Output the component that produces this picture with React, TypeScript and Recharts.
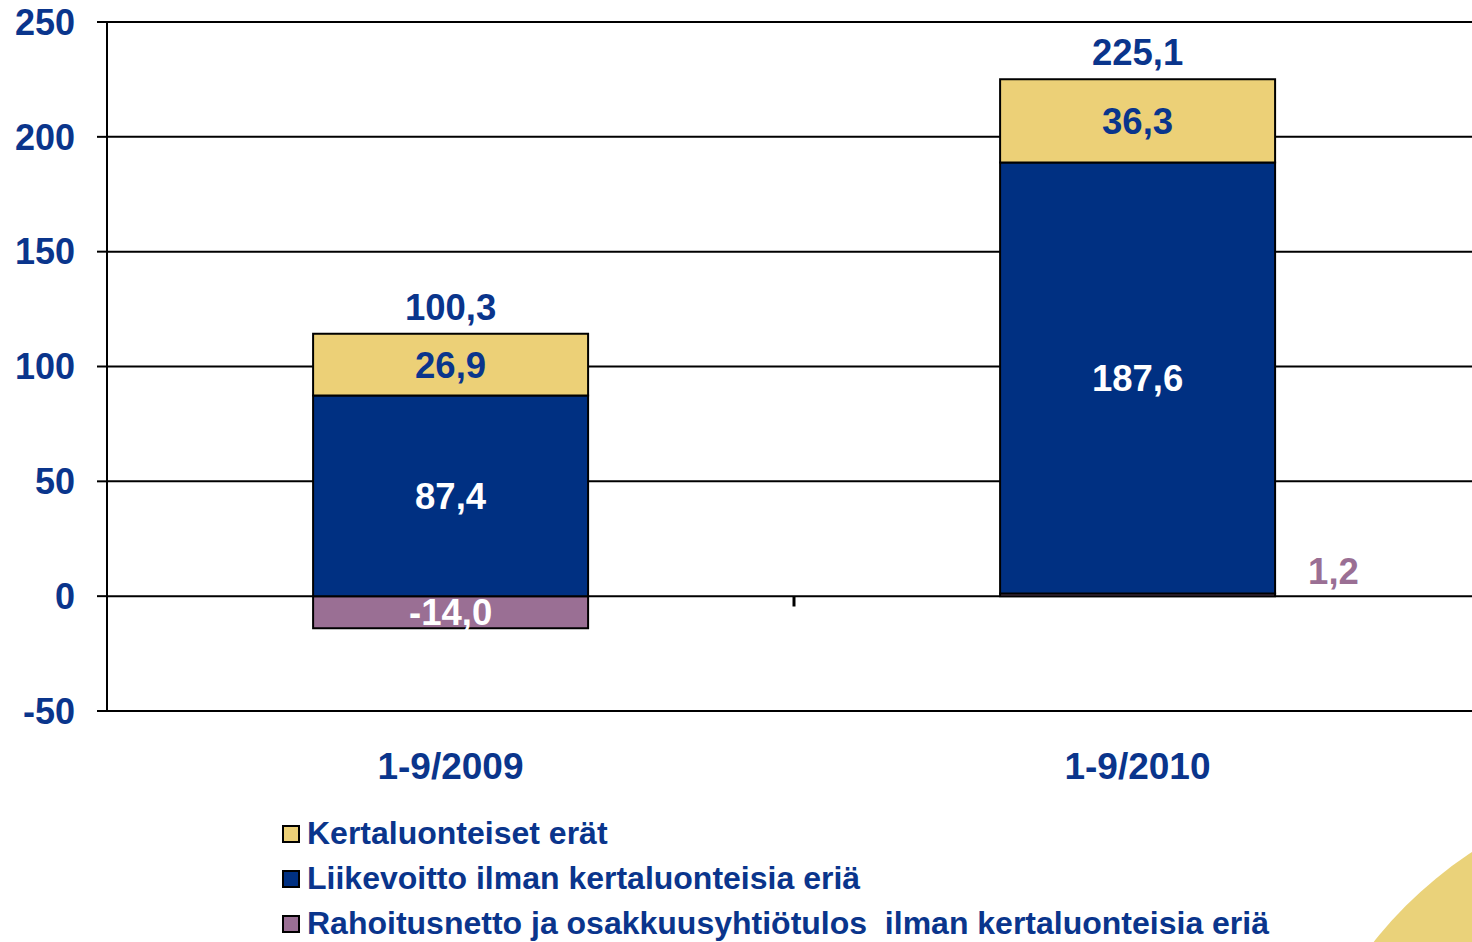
import { BarChart, Bar, XAxis, YAxis, CartesianGrid, LabelList, Legend, ReferenceLine } from 'recharts';

const categories = ['1-9/2009', '1-9/2010'];
const kertaluonteiset = [26.9, 36.3];
const liikevoitto = [87.4, 187.6];
const rahoitus = [-14.0, 1.2];
const totals = [100.3, 225.1];
const yTicks = [-50, 0, 50, 100, 150, 200, 250];

const seriesNames = [
  'Kertaluonteiset erät',
  'Liikevoitto ilman kertaluonteisia eriä',
  'Rahoitusnetto ja osakkuusyhtiötulos  ilman kertaluonteisia eriä',
];

const NAVY = '#0A358C';
const YELLOW = '#ECD077';
const BLUE = '#003082';
const PURPLE = '#9A6F94';
const FONT = '"Liberation Sans", Arial, sans-serif';

const data = categories.map((c, i) => ({
  name: c,
  kert: kertaluonteiset[i],
  liike: liikevoitto[i],
  rahoitus: rahoitus[i],
  total: totals[i],
}));

const fmt = (v: number) => v.toFixed(1).replace('.', ',');

const centerLabel = (color: string) => (props: any) => {
  const { x, y, width, height, value } = props;
  return (
    <text x={x + width / 2} y={y + height / 2} dy="0.36em" textAnchor="middle" fill={color}
      fontSize={36.5} fontWeight="bold" fontFamily={FONT}>
      {fmt(Number(value))}
    </text>
  );
};

const totalLabel = (props: any) => {
  const { x, y, width, index } = props;
  return (
    <text x={x + width / 2} y={y - 14} textAnchor="middle" fill={NAVY}
      fontSize={36.5} fontWeight="bold" fontFamily={FONT}>
      {fmt(totals[index])}
    </text>
  );
};

const rahoitusLabel = (props: any) => {
  const { x, y, width, height, value } = props;
  const v = Number(value);
  if (v < 0) {
    return (
      <text x={x + width / 2} y={y + height / 2} dy="0.36em" textAnchor="middle" fill="#fff"
        fontSize={36.5} fontWeight="bold" fontFamily={FONT}>
        {fmt(v)}
      </text>
    );
  }
  return (
    <text x={x + width + 33} y={Math.min(y, y + height) - 9} textAnchor="start" fill={PURPLE}
      fontSize={36.5} fontWeight="bold" fontFamily={FONT}>
      {fmt(v)}
    </text>
  );
};

const legendColors = [YELLOW, BLUE, PURPLE];

const renderLegend = () => (
  <div style={{ fontFamily: FONT, fontWeight: 'bold', fontSize: 32, color: NAVY }}>
    {seriesNames.map((n, i) => (
      <div key={n} style={{ display: 'flex', alignItems: 'center', height: 45, whiteSpace: 'pre' }}>
        <span style={{ display: 'inline-block', width: 14, height: 14, background: legendColors[i],
          border: '2px solid #000', marginRight: 7 }} />
        {n}
      </div>
    ))}
  </div>
);

export default function App() {
  return (
    <div style={{ position: 'absolute', left: 0, top: 0, width: 1472, height: 942, overflow: 'hidden', background: '#fff' }}>
      <div style={{ position: 'absolute', left: 1700 - 416, top: 1200 - 416, width: 832, height: 832,
        borderRadius: '50%', background: '#EAD27A' }} />
      <BarChart width={1472} height={942} data={data} stackOffset="sign" barCategoryGap="30%"
        margin={{ top: 22, right: -9, bottom: 171, left: 0 }}>
        <CartesianGrid horizontal vertical={false} stroke="#000" strokeWidth={2} />
        <XAxis dataKey="name" height={60} axisLine={false} tickLine={false} tickSize={0} tickMargin={42}
          tick={{ fill: NAVY, fontSize: 37, fontWeight: 'bold', fontFamily: FONT }} />
        <YAxis width={107} domain={[-50, 250]} ticks={yTicks} interval={0}
          axisLine={{ stroke: '#000', strokeWidth: 2 }} tickLine={{ stroke: '#000', strokeWidth: 2 }}
          tickSize={10} tickMargin={22}
          tick={{ fill: NAVY, fontSize: 36, fontWeight: 'bold', fontFamily: FONT }} />
        <ReferenceLine segment={[{ x: '1-9/2009', y: 0 }, { x: '1-9/2009', y: -4.5 }]} position="end"
          stroke="#000" strokeWidth={3} />
        <Bar dataKey="rahoitus" stackId="a" fill={PURPLE} stroke="#000" strokeWidth={2} isAnimationActive={false}>
          <LabelList dataKey="rahoitus" content={rahoitusLabel} />
        </Bar>
        <Bar dataKey="liike" stackId="a" fill={BLUE} stroke="#000" strokeWidth={2} isAnimationActive={false}>
          <LabelList dataKey="liike" content={centerLabel('#fff')} />
        </Bar>
        <Bar dataKey="kert" stackId="a" fill={YELLOW} stroke="#000" strokeWidth={2} isAnimationActive={false}>
          <LabelList dataKey="kert" content={centerLabel(NAVY)} />
          <LabelList dataKey="total" content={totalLabel} />
        </Bar>
        <Legend layout="vertical" align="center" verticalAlign="middle" content={renderLegend}
          wrapperStyle={{ left: 282, top: 811, width: 1100, height: 135 }} />
      </BarChart>
    </div>
  );
}
